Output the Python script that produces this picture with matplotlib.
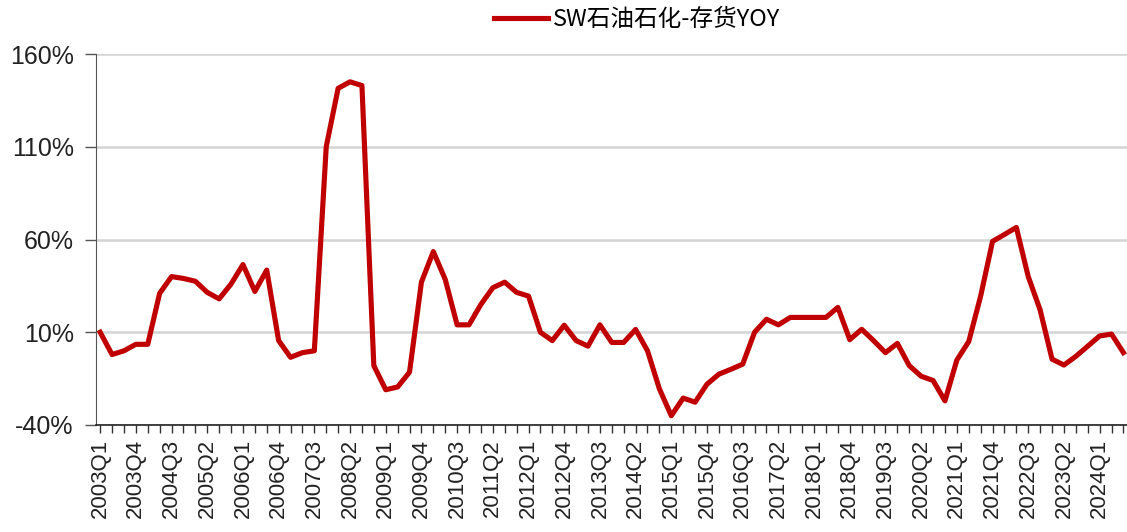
import matplotlib
matplotlib.use("Agg")
import matplotlib.pyplot as plt
from matplotlib.ticker import FixedLocator, FuncFormatter

plt.rcParams["font.family"] = ["Liberation Sans", "DejaVu Sans"]

# ── 数据：SW石油石化 存货同比（%），2003Q1 – 2024Q3 ──
years = list(range(2003, 2025))
quarters = [f"{y}Q{q}" for y in years for q in range(1, 5)][:87]

inventory_yoy = [
    10, -2, 0, 3.5,            # 2003
    3.5, 31, 40, 39,           # 2004
    37.5, 31.5, 28, 36,        # 2005
    46.5, 32, 43.5, 5.5,       # 2006
    -3.5, -1, 0, 110,          # 2007
    141.5, 145, 143, -8,       # 2008
    -21, -19.5, -11.5, 37,     # 2009
    53.5, 38.5, 14, 14,        # 2010
    25, 34, 37, 31.5,          # 2011
    29.5, 10, 5.5, 13.8,       # 2012
    5.5, 2.5, 14, 4.5,         # 2013
    4.5, 11.5, 0, -20.5,       # 2014
    -35, -25.5, -27.7, -18,    # 2015
    -12.6, -10, -7.2, 10,      # 2016
    17, 14, 18, 18,            # 2017
    18, 18, 23.4, 6,           # 2018
    11.6, 5.5, -1, 4,          # 2019
    -8, -13.7, -16, -27,       # 2020
    -5, 5, 29.5, 59,           # 2021
    62.7, 66.5, 40, 22,        # 2022
    -4.5, -7.7, -3, 2.5,       # 2023
    8, 9, -1,                  # 2024
]

y_ticks = [-40, 10, 60, 110, 160]

fig = plt.figure(figsize=(11.27, 5.32), dpi=100)
ax = fig.add_axes([96 / 1127, 1 - 425 / 532, 1 - 96 / 1127, (425 - 54) / 532])

x = list(range(len(inventory_yoy)))
ax.plot(x, inventory_yoy, color="#C00000", linewidth=3.7,
        solid_joinstyle="round", label="SW石油石化-存货YOY", clip_on=False)

ax.set_ylim(-40, 160)
ax.set_xlim(-0.35, 86.3)
ax.yaxis.set_major_locator(FixedLocator(y_ticks))
ax.yaxis.set_major_formatter(FuncFormatter(lambda v, _: f"{v:.0f}%"))
ax.grid(axis="y", color="#d4d4d4", linewidth=1.8)
ax.set_axisbelow(True)

# 每季度一个刻度，每三个季度一个标签
ax.set_xticks(x)
ax.set_xticklabels([q if i % 3 == 0 else "" for i, q in enumerate(quarters)],
                   rotation=90, fontsize=16, color="#222222")
ax.tick_params(axis="x", length=6, width=1, color="#333333", pad=4)
ax.tick_params(axis="y", length=8, width=1, color="#555555", labelsize=18,
               labelcolor="#222222", pad=8)

for side in ("top", "right"):
    ax.spines[side].set_visible(False)
ax.spines["left"].set_color("#555555")
ax.spines["bottom"].set_color("#222222")
ax.spines["bottom"].set_linewidth(1.2)

fig.legend(loc="center", bbox_to_anchor=(637 / 1127, 1 - 20 / 532),
           frameon=False, handlelength=2.3, handletextpad=0.2,
           prop={"family": ["Noto Sans CJK SC", "DejaVu Sans"], "size": 17,
                 "weight": "medium"})

fig.savefig("out.png", dpi=100)
